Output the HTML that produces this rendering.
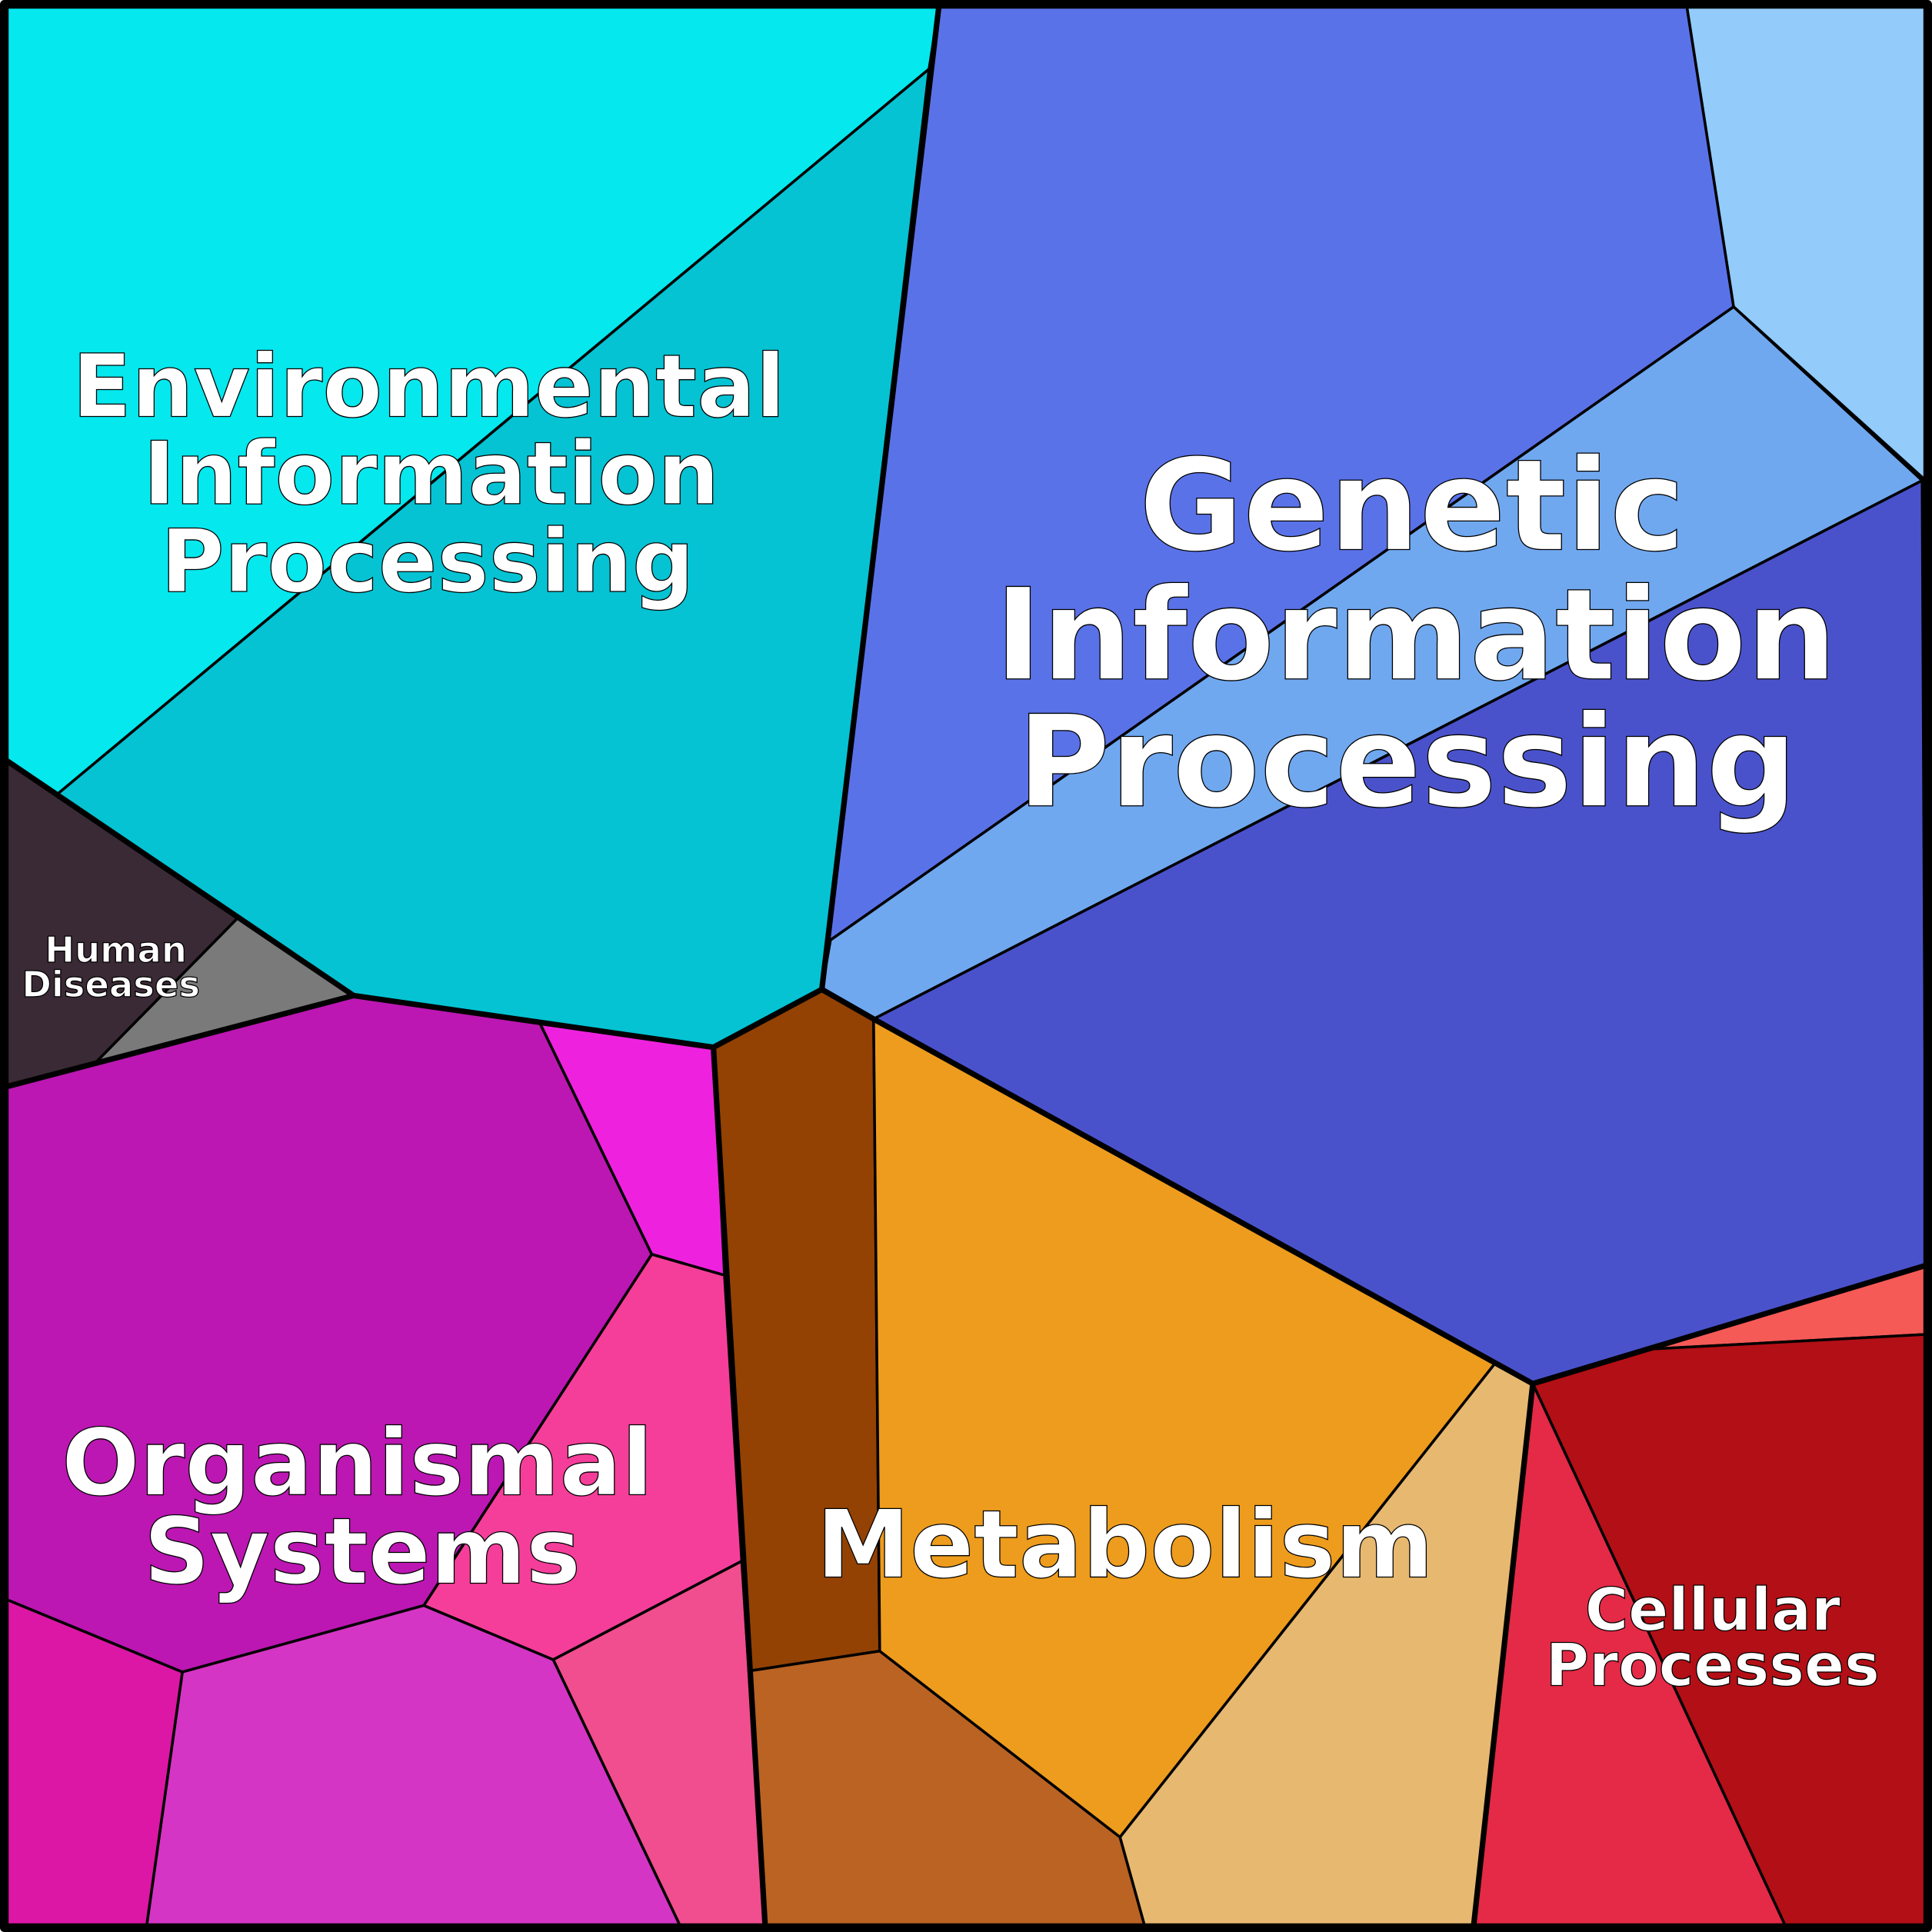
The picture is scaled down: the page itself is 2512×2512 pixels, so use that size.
<!DOCTYPE html>
<html><head><meta charset="utf-8"><style>
html,body{margin:0;padding:0;background:#fff}
svg{display:block}
text{font-family:"DejaVu Sans","Liberation Sans",sans-serif;font-weight:bold;fill:#fff;stroke:#000;stroke-width:0.8;text-anchor:middle}
</style></head><body>
<svg width="2512" height="2512" viewBox="0 0 1568 1568" xmlns="http://www.w3.org/2000/svg">
<g stroke="#000" stroke-width="2.2" stroke-linejoin="round">
<polygon fill="#04E8EE" points="5,5 762,5 754,56 46,645 5,617"/>
<polygon fill="#05C3D3" points="46,645 754,56 667,803 579,850 438,830 287,808 193,745"/>
<polygon fill="#3A2A35" points="5,617 46,645 193,745 78,862 5,882"/>
<polygon fill="#7A7A7A" points="193,745 287,808 78,862"/>
<polygon fill="#BC17B2" points="5,882 78,862 287,808 438,830 529,1018 344,1303 148,1357 5,1298"/>
<polygon fill="#EE22DE" points="438,830 579,850 588,1035 529,1018"/>
<polygon fill="#F53E9A" points="529,1018 588,1035 602,1267 449,1347 344,1303"/>
<polygon fill="#F04E8E" points="449,1347 602,1267 621,1563 552,1563"/>
<polygon fill="#D535C4" points="148,1357 344,1303 449,1347 552,1563 119,1563"/>
<polygon fill="#DC17A5" points="5,1298 148,1357 119,1563 5,1563"/>
<polygon fill="#934203" points="579,850 667,803 709,827 714,1340 609,1356"/>
<polygon fill="#BA6323" points="609,1356 714,1340 909,1491 929,1563 621,1563"/>
<polygon fill="#EE9C1D" points="709,827 1213,1107 909,1491 714,1340"/>
<polygon fill="#E7B870" points="1213,1107 1244,1123 1196,1563 929,1563 909,1491"/>
<polygon fill="#5A72E8" points="762,5 1369,5 1407,249 674,763 667,803"/>
<polygon fill="#93CBFB" points="1369,5 1563,5 1563,390 1407,249"/>
<polygon fill="#70A8F0" points="674,763 1407,249 1560,390 709,827 667,803"/>
<polygon fill="#4A52CB" points="709,827 1560,390 1563,1027 1244,1123 1213,1107"/>
<polygon fill="#F55A57" points="1563,1027 1563,1083 1338,1095 1244,1123"/>
<polygon fill="#B30F16" points="1244,1123 1338,1095 1563,1083 1563,1563 1449,1563"/>
<polygon fill="#E42A46" points="1244,1123 1449,1563 1196,1563"/>
</g>
<g fill="none" stroke="#000" stroke-width="4.5" stroke-linejoin="round">
<polyline points="762,5 667,803 579,850 287,808 5,882"/>
<polyline points="5,617 287,808"/>
<polyline points="579,850 621,1563"/>
<polyline points="667,803 709,827 1244,1123 1563,1027"/>
<polyline points="1244,1123 1196,1563"/>
<rect x="3.5" y="3.5" width="1561" height="1561" stroke-width="7"/>
</g>
<g font-size="70.5">
<text x="348" y="338">Environmental</text>
<text x="350" y="409">Information</text>
<text x="347" y="480">Processing</text>
</g>
<g font-size="103">
<text x="1146" y="446">Genetic</text>
<text x="1149" y="551">Information</text>
<text x="1142" y="654">Processing</text>
</g>
<g font-size="29">
<text x="94" y="781">Human</text>
<text x="90" y="809">Diseases</text>
</g>
<g font-size="74.5">
<text x="290" y="1213">Organismal</text>
<text x="294" y="1285">Systems</text>
</g>
<text font-size="76.5" x="913" y="1280">Metabolism</text>
<g font-size="48">
<text x="1390" y="1323">Cellular</text>
<text x="1390" y="1368">Processes</text>
</g>
</svg>
</body></html>
